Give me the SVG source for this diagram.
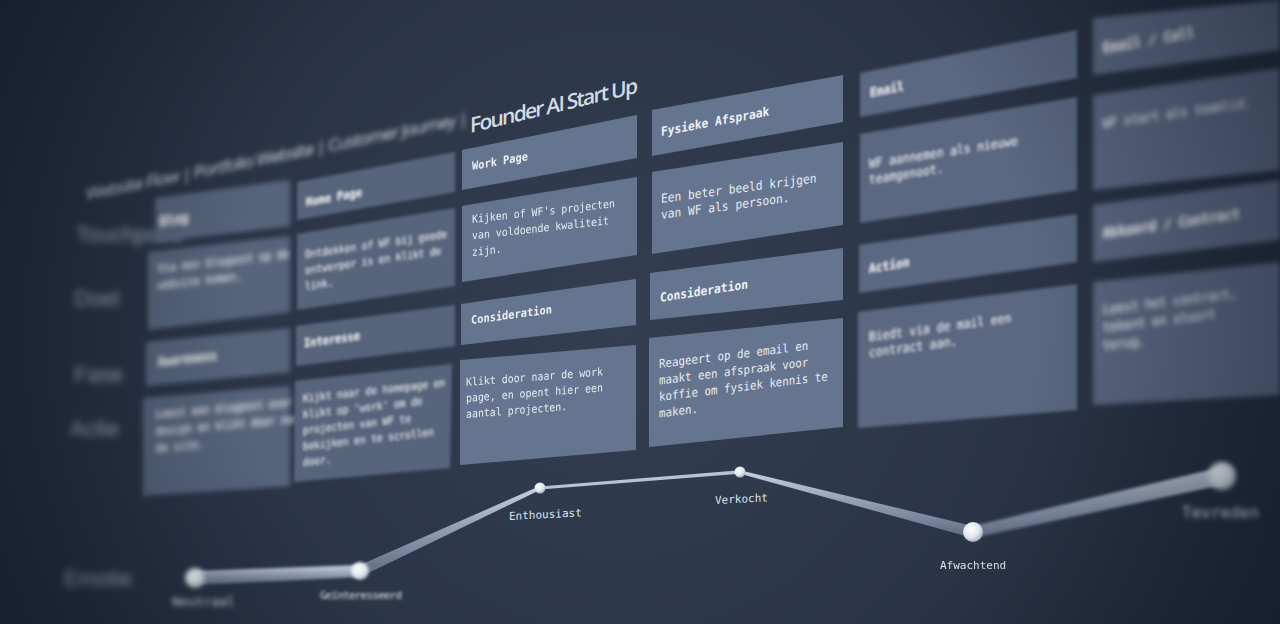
<svg xmlns="http://www.w3.org/2000/svg" width="1280" height="624" viewBox="0 0 1280 624">
<defs>
<radialGradient id="bg" cx="620" cy="330" r="760" gradientUnits="userSpaceOnUse">
<stop offset="0" stop-color="#333e51"/>
<stop offset="0.6" stop-color="#293345"/>
<stop offset="1" stop-color="#1c2434"/>
</radialGradient>
<radialGradient id="vig" cx="640" cy="320" r="720" gradientUnits="userSpaceOnUse">
<stop offset="0.55" stop-color="#111826" stop-opacity="0"/>
<stop offset="1" stop-color="#111826" stop-opacity="0.5"/>
</radialGradient>
<radialGradient id="dot" cx="0.4" cy="0.35" r="0.7">
<stop offset="0" stop-color="#ffffff"/>
<stop offset="0.6" stop-color="#dfe6ee"/>
<stop offset="1" stop-color="#9aa7b8"/>
</radialGradient>
<linearGradient id="tube" x1="0" y1="0" x2="0" y2="1">
<stop offset="0" stop-color="#c9d2de"/>
<stop offset="0.5" stop-color="#8e9bb0"/>
<stop offset="1" stop-color="#5d6a80"/>
</linearGradient>
<filter id="b1" x="-20%" y="-20%" width="140%" height="140%"><feGaussianBlur stdDeviation="0.7"/></filter>
<filter id="b2" x="-20%" y="-20%" width="140%" height="140%"><feGaussianBlur stdDeviation="1.6"/></filter>
<filter id="b3" x="-20%" y="-20%" width="140%" height="140%"><feGaussianBlur stdDeviation="2.8"/></filter>
<filter id="b4" x="-20%" y="-20%" width="140%" height="140%"><feGaussianBlur stdDeviation="3.6"/></filter>
</defs>
<style>
.cell{fill:#66758f}
.cellL{fill:#57657c}
.cellR{fill:#5a6881}
.h{font-family:"DejaVu Sans Mono","Liberation Mono",monospace;font-weight:bold;fill:#eef2f7}
.t{font-family:"DejaVu Sans Mono","Liberation Mono",monospace;fill:#e6ecf3}
.lab{font-family:"DejaVu Sans Mono","Liberation Mono",monospace;fill:#dde4ec}
.title{font-family:"Open Sans","Liberation Sans",sans-serif;fill:#d3dae4}
.row{font-family:"Liberation Sans",sans-serif;fill:#a3aec0;font-size:22px}
</style>
<rect width="1280" height="624" fill="url(#bg)"/>

<g id="title">
<text class="title" font-size="17" transform="matrix(1,-0.2,0,1,86,200)" textLength="382" filter="url(#b3)">Website Flow | Portfolio Website | Customer Journey |</text>
<text class="title" font-size="21" font-weight="600" transform="matrix(1,-0.24,0,1,470,133)" textLength="168">Founder AI Start Up</text>
</g>

<g id="row-labels" filter="url(#b4)">
<text class="row" x="76" y="242">Touchpoint</text>
<text class="row" x="74" y="306">Doel</text>
<text class="row" x="74" y="382">Fase</text>
<text class="row" x="70" y="436">Actie</text>
<text class="row" x="64" y="586">Emotie</text>
</g>

<g id="col1" filter="url(#b3)">
<polygon class="cellL" points="155,198 290,180 290,226 155,242"/>
<polygon class="cellL" points="148,252 290,236 290,312 148,330"/>
<polygon class="cellL" points="146,342 290,328 290,372 146,386"/>
<polygon class="cellL" points="143,398 290,386 290,486 143,496"/>
<text class="h" font-size="13" transform="matrix(0.9,-0.14,0,1,160,226)">Blog</text>
<text class="t" font-size="11" transform="matrix(0.9,-0.1,0,1,158,272)"><tspan x="0">Via een blogpost op de</tspan><tspan x="0" dy="17">website komen.</tspan></text>
<text class="h" font-size="12" transform="matrix(0.9,-0.1,0,1,158,366)">Awareness</text>
<text class="t" font-size="11" transform="matrix(0.9,-0.08,0,1,156,418)"><tspan x="0">Leest een blogpost over AI</tspan><tspan x="0" dy="17">design en klikt door naar</tspan><tspan x="0" dy="17">de site.</tspan></text>
</g>

<g id="col2" filter="url(#b2)">
<polygon class="cellL" points="297,182 455,152 455,192 297,220"/>
<polygon class="cellL" points="297,234 455,208 455,286 297,310"/>
<polygon class="cellL" points="296,326 455,305 455,346 296,366"/>
<polygon class="cellL" points="295,381 452,364 450,468 294,482"/>
<text class="h" font-size="11.5" transform="matrix(0.9,-0.16,0,1,306,206)">Home Page</text>
<text class="t" font-size="10.5" transform="matrix(0.9,-0.13,0,1,305,258)"><tspan x="0">Ontdekken of WF bij goede</tspan><tspan x="0" dy="16">ontwerper is en klikt de</tspan><tspan x="0" dy="16">link.</tspan></text>
<text class="h" font-size="11.5" transform="matrix(0.9,-0.12,0,1,304,347)">Interesse</text>
<text class="t" font-size="10.5" transform="matrix(0.9,-0.1,0,1,303,402)"><tspan x="0">Kijkt naar de homepage en</tspan><tspan x="0" dy="16">klikt op 'work' om de</tspan><tspan x="0" dy="16">projecten van WF te</tspan><tspan x="0" dy="16">bekijken en te scrollen</tspan><tspan x="0" dy="16">door.</tspan></text>
</g>

<g id="col3" filter="url(#b1)">
<polygon class="cell" points="462,150 637,115 637,158 462,190"/>
<polygon class="cell" points="462,206 637,177 637,255 462,282"/>
<polygon class="cell" points="461,304 636,279 636,325 461,345"/>
<polygon class="cell" points="460,360 636,345 636,450 460,465"/>
<text class="h" font-size="11.5" transform="matrix(0.9,-0.16,0,1,472,170)">Work Page</text>
<text class="t" font-size="11" transform="matrix(0.9,-0.1,0,1,472,223)"><tspan x="0">Kijken of WF's projecten</tspan><tspan x="0" dy="16.5">van voldoende kwaliteit</tspan><tspan x="0" dy="16.5">zijn.</tspan></text>
<text class="h" font-size="11.5" transform="matrix(0.9,-0.12,0,1,471,324)">Consideration</text>
<text class="t" font-size="11" transform="matrix(0.9,-0.07,0,1,466,386)"><tspan x="0">Klikt door naar de work</tspan><tspan x="0" dy="16">page, en opent hier een</tspan><tspan x="0" dy="16">aantal projecten.</tspan></text>
</g>

<g id="col4">
<polygon class="cell" points="652,110 843,75 843,122 652,156"/>
<polygon class="cell" points="652,172 843,142 843,225 652,254"/>
<polygon class="cell" points="650,273 843,248 843,300 650,320"/>
<polygon class="cell" points="649,338 843,318 843,427 649,447"/>
<text class="h" font-size="12.5" transform="matrix(0.9,-0.17,0,1,661,136)">Fysieke Afspraak</text>
<text class="t" font-size="12.5" transform="matrix(0.9,-0.12,0,1,661,203)"><tspan x="0">Een beter beeld krijgen</tspan><tspan x="0" dy="16">van WF als persoon.</tspan></text>
<text class="h" font-size="12.5" transform="matrix(0.9,-0.14,0,1,660,302)">Consideration</text>
<text class="t" font-size="12" transform="matrix(0.9,-0.11,0,1,659,368)"><tspan x="0">Reageert op de email en</tspan><tspan x="0" dy="16.5">maakt een afspraak voor</tspan><tspan x="0" dy="16.5">koffie om fysiek kennis te</tspan><tspan x="0" dy="16.5">maken.</tspan></text>
</g>

<g id="col5" filter="url(#b2)">
<polygon class="cellR" points="860,73 1077,30 1077,78 860,117"/>
<polygon class="cellR" points="860,134 1077,97 1077,190 860,223"/>
<polygon class="cellR" points="859,245 1077,214 1077,262 859,293"/>
<polygon class="cellR" points="858,312 1077,284 1077,410 858,428"/>
<text class="h" font-size="12.5" transform="matrix(0.9,-0.18,0,1,870,97)">Email</text>
<text class="t" font-size="12.5" transform="matrix(0.9,-0.14,0,1,869,168)"><tspan x="0">WF aannemen als nieuwe</tspan><tspan x="0" dy="16">teamgenoot.</tspan></text>
<text class="h" font-size="12.5" transform="matrix(0.9,-0.15,0,1,869,273)">Action</text>
<text class="t" font-size="12.5" transform="matrix(0.9,-0.12,0,1,869,341)"><tspan x="0">Biedt via de mail een</tspan><tspan x="0" dy="16">contract aan.</tspan></text>
</g>

<g id="col6" filter="url(#b3)">
<polygon class="cellR" points="1093,18 1280,0 1280,50 1093,75"/>
<polygon class="cellR" points="1093,95 1280,68 1280,170 1093,190"/>
<polygon class="cellR" points="1093,205 1280,180 1280,240 1093,262"/>
<polygon class="cellR" points="1093,282 1280,262 1280,395 1093,405"/>
<text class="h" font-size="14" transform="matrix(0.9,-0.16,0,1,1103,53)">Email / Call</text>
<text class="t" font-size="13" transform="matrix(0.9,-0.13,0,1,1103,128)">WF start als teamlid.</text>
<text class="h" font-size="14" transform="matrix(0.9,-0.13,0,1,1103,238)">Akkoord / Contract</text>
<text class="t" font-size="13" transform="matrix(0.9,-0.11,0,1,1103,314)"><tspan x="0">Leest het contract,</tspan><tspan x="0" dy="18">tekent en stuurt</tspan><tspan x="0" dy="18">terug.</tspan></text>
</g>

<g id="connectors">
<polygon points="195,571 360,565 360,577 195,585" fill="url(#tube)" filter="url(#b2)"/>
<polygon points="360,565 540,486 540,490 360,577" fill="url(#tube)" filter="url(#b1)"/>
<polygon points="540,486.5 740,470.3 740,473.7 540,489.5" fill="#b9c3d1"/>
<polygon points="740,470.3 973,526 973,538 740,473.7" fill="url(#tube)" filter="url(#b1)"/>
<polygon points="973,526 1222,467 1222,485 973,538" fill="url(#tube)" filter="url(#b2)"/>
</g>

<g id="emotion-points">
<g id="p-neutraal" filter="url(#b3)"><circle cx="195" cy="578" r="10" fill="url(#dot)"/><text class="lab" x="172" y="606" font-size="13">Neutraal</text></g>
<g id="p-geinteresseerd" filter="url(#b2)"><circle cx="360" cy="571" r="9" fill="url(#dot)"/><text class="lab" x="320" y="599" font-size="11" textLength="82">Geïnteresseerd</text></g>
<g id="p-enthousiast"><circle cx="540" cy="488" r="5.5" fill="url(#dot)"/><text class="lab" font-size="11" transform="matrix(1,-0.05,0,1,509,520)">Enthousiast</text></g>
<g id="p-verkocht"><circle cx="740" cy="472" r="5.5" fill="url(#dot)"/><text class="lab" font-size="11" transform="matrix(1,-0.05,0,1,715,504)">Verkocht</text></g>
<g id="p-afwachtend" filter="url(#b1)"><circle cx="973" cy="532" r="10" fill="url(#dot)"/><text class="lab" x="940" y="569" font-size="11">Afwachtend</text></g>
<g id="p-tevreden" filter="url(#b3)"><circle cx="1222" cy="476" r="14" fill="url(#dot)"/><text class="lab" x="1182" y="518" font-size="16">Tevreden</text></g>
</g>

<rect width="1280" height="624" fill="url(#vig)" pointer-events="none"/>
</svg>
